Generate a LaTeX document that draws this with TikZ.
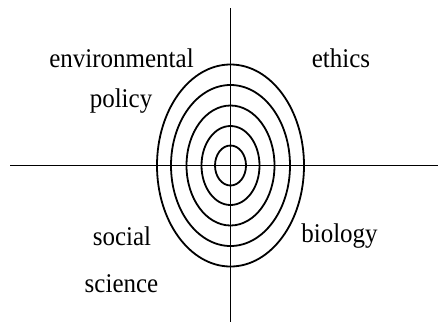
\documentclass[tikz,border=0pt]{standalone}
\usepackage{fontspec}
\setmainfont{Liberation Serif}
\begin{document}
\begin{tikzpicture}[x=1pt,y=-1pt,
  axis/.style={line width=1.7pt,black},
  ring/.style={line width=1.8pt,black},
  lbl/.style={anchor=base,inner sep=0pt,yscale=1.06,xscale=0.98,font=\fontsize{25.5}{30}\selectfont,text=black}]
\useasboundingbox (0,0) rectangle (443,327);
\coordinate (c) at (230.5,165.5);
\coordinate (top) at (230.5,8);
\coordinate (bot) at (230.5,322);
\coordinate (left) at (10,165.5);
\coordinate (right) at (438,165.5);
\draw[axis] (left) -- (right);
\draw[axis] (top) -- (bot);
\draw[ring] (c) ellipse [x radius=15.5, y radius=20];
\draw[ring] (c) ellipse [x radius=29, y radius=39.5];
\draw[ring] (c) ellipse [x radius=44, y radius=60];
\draw[ring] (c) ellipse [x radius=59.5, y radius=80.5];
\draw[ring] (c) ellipse [x radius=73.5, y radius=101];
\node[lbl] (env) at (121.5,67) {environmental};
\node[lbl] (pol) at (121,107.5) {policy};
\node[lbl] (eth) at (341,67) {ethics};
\node[lbl] (soc) at (122,245) {social};
\node[lbl] (sci) at (121.5,292) {science};
\node[lbl] (bio) at (339.5,242) {biology};
\end{tikzpicture}
\end{document}
